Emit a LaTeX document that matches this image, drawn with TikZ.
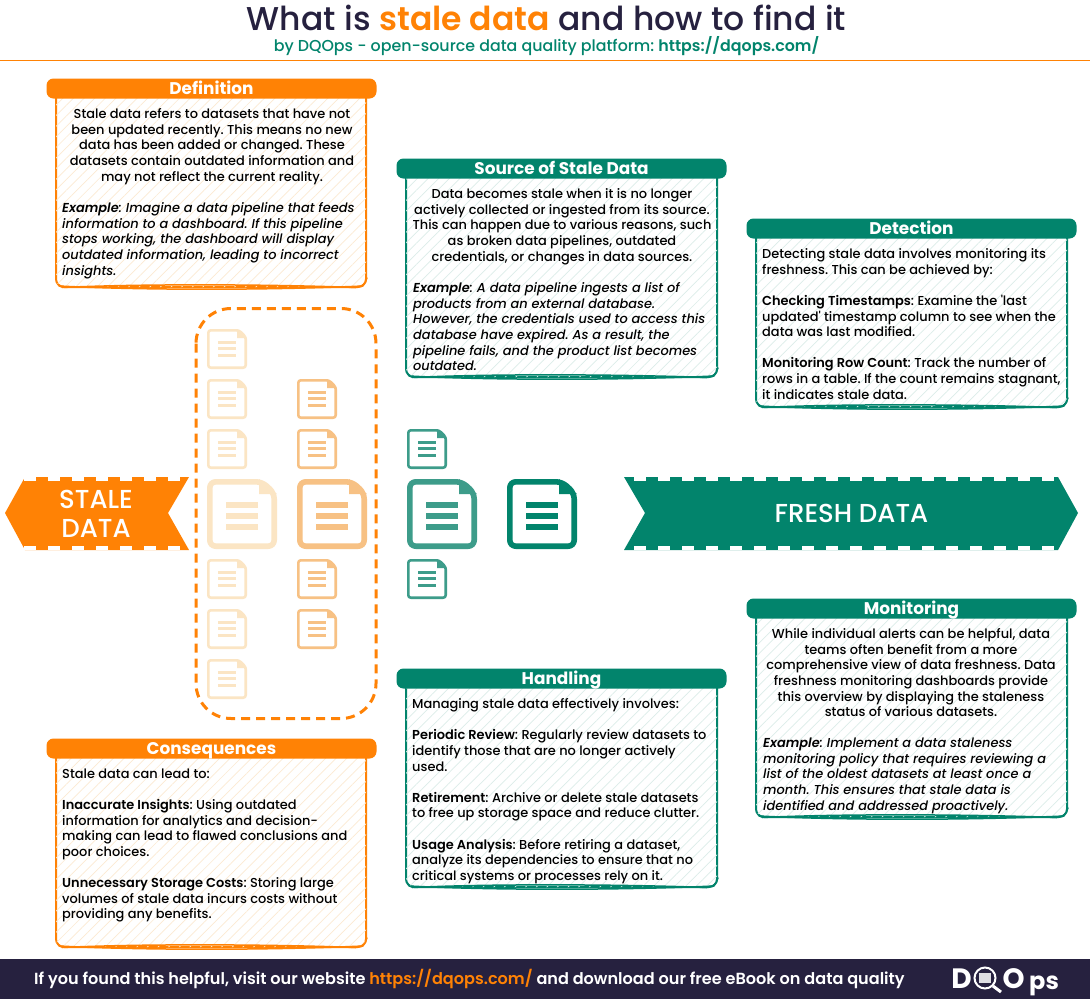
\documentclass[tikz,border=0pt]{standalone}
\usepackage{fontspec}
\usetikzlibrary{patterns.meta}
\setmainfont{Poppins}
\newfontfamily\med{Poppins Medium}[ItalicFont={Poppins Medium Italic},BoldFont={Poppins SemiBold},BoldItalicFont={Poppins SemiBold Italic}]
\newfontfamily\semi{Poppins SemiBold}
\definecolor{orng}{HTML}{FF8205}
\definecolor{grn}{HTML}{02846C}
\definecolor{navy}{HTML}{26213F}
\definecolor{tintO}{HTML}{FBE5C4}
\definecolor{peach}{HTML}{F7C184}
\definecolor{teal}{HTML}{3D9C8A}
\definecolor{hatchO}{HTML}{FCEAD2}
\definecolor{hatchG}{HTML}{DCEDE9}
\frenchspacing
\tikzset{
  x=1pt,y=-1pt,
  bodytext/.style={font=\med\frenchspacing\fontsize{12.95}{15.6}\selectfont,inner sep=0pt,text=black},
  lefttext/.style={bodytext,anchor=north west,align=left},
  midtext/.style={bodytext,anchor=north,align=center},
  headbar/.style={rounded corners=7pt,minimum width=330pt,minimum height=20pt,inner sep=0pt,text height=11.5pt,text depth=0pt,text=white,font=\fontsize{16.9}{18}\bfseries\selectfont},
  headO/.style={headbar,fill=orng},
  headG/.style={headbar,fill=grn},
  bodyO/.style={draw=orng,line width=2pt,rounded corners=8pt,fill=white,postaction={pattern={Lines[angle=45,distance=7.5pt,line width=.7pt]},pattern color=hatchO}},
  bodyG/.style={draw=grn,line width=2pt,rounded corners=8pt,fill=white,postaction={pattern={Lines[angle=45,distance=7.5pt,line width=.7pt]},pattern color=hatchG}},
  banner/.style={font=\med\fontsize{26}{29}\selectfont,text=white,align=center,inner sep=0pt},
  logotext/.style={font=\bfseries\fontsize{28}{28}\selectfont,text=white,inner sep=0pt,anchor=base},
}
% hand-drawn extra strokes along the bottom edge of a card: colour, x0, x1, y
\newcommand{\sketchedge}[4]{%
  \draw[#1,line width=1.5pt,line cap=round] (#2+3,#4-1) .. controls (#2+90,#4+3.5) and (#3-90,#4+3) .. (#3-3,#4-1);
  \draw[#1,line width=1.5pt,line cap=round] (#2+6,#4+.5) .. controls (#2+90,#4-3.5) and (#3-90,#4-2.5) .. (#3-10,#4+.5);
  \draw[#1,line width=1.3pt,line cap=round] (#3-15,#4+.5) .. controls (#3-6,#4+1) and (#3,#4-2) .. (#3+1,#4-9);
}
\newcommand{\docsmall}[3]{% x y colour
  \begin{scope}[shift={(#1,#2)}]
    \draw[#3,line width=2.6pt,line join=round,rounded corners=2.5pt] (1.3,1.3) -- (32,1.3) -- (38.7,8) -- (38.7,38.7) -- (1.3,38.7) -- cycle;
    \fill[#3] (30,0) -- (40,9) -- (30,9) -- cycle;
    \foreach \yy in {11.5,18,24.5}{\fill[#3] (10.5,\yy) rectangle (29,\yy+3);}
  \end{scope}}
\newcommand{\docbig}[3]{%
  \begin{scope}[shift={(#1,#2)}]
    \draw[#3,line width=5.6pt,line join=round,rounded corners=6pt] (2.8,2.8) -- (55,2.8) -- (67.2,14) -- (67.2,67.2) -- (2.8,67.2) -- cycle;
    \fill[#3] (52,0) -- (70,15) -- (52,15) -- cycle;
    \foreach \yy in {23,34,45}{\fill[#3] (18.5,\yy) rectangle (50.5,\yy+6);}
  \end{scope}}
\begin{document}
\begin{tikzpicture}
\useasboundingbox (0,0) rectangle (1090,999);
\fill[white] (0,0) rectangle (1090,999);
% title
\node[font=\med\fontsize{33}{36}\selectfont,text=navy,inner sep=0pt,text height=24pt,text depth=0pt] (title) at (546.5,18) {What is {\semi\color{orng}stale data} and how to find it};
\node[font=\med\fontsize{15.85}{18}\selectfont,text=grn,inner sep=0pt] (sub) at (546.5,46) {by DQOps - open-source data quality platform: {\bfseries https://dqops.com/}};
\fill[orng] (0,59.5) rectangle (1090,61);
% dashed box
\draw[orng,line width=3pt,rounded corners=35pt,dash pattern=on 9pt off 6pt] (196,308.5) rectangle (376,718.5);
% doc icons
\foreach \yy in {329,379,429,559,609,659}{\docsmall{207}{\yy}{tintO}}
\foreach \yy in {379,429,559,609}{\docsmall{297}{\yy}{peach}}
\foreach \yy in {429,559}{\docsmall{407}{\yy}{teal}}
\docbig{207}{479}{tintO}
\docbig{297}{479}{peach}
\docbig{407}{479}{teal}
\docbig{507}{479}{grn}
% banners
\fill[orng] (5,513) -- (25,477) -- (189,477) -- (168,513) -- (189,550) -- (25,550) -- cycle;
\fill[grn] (624,477) -- (1058,477) -- (1078,513) -- (1058,550) -- (624,550) -- (645,513) -- cycle;
\draw[white,line width=4pt,dash pattern=on 12pt off 12pt] (24,479) -- (189,479) (24,548) -- (189,548);
\draw[white,line width=4pt,dash pattern=on 12pt off 12pt] (634,479) -- (1060,479) (634,548) -- (1060,548);
\node[banner] (stale) at (96,513.5) {STALE\\DATA};
\node[banner] (fresh) at (851.5,513) {FRESH DATA};
% Definition
\draw[bodyO] (56,90) -- (56,287) -- (366,287) -- (366,90);
\sketchedge{orng}{56}{366}{287}
\node[headO] (defh) at (211.5,88.5) {Definition};
\node[midtext] (defa) at (212,108.5) {Stale data refers to datasets that have not\\been updated recently. This means no new\\data has been added or changed. These\\datasets contain outdated information and\\may not reflect the current reality.};
\node[lefttext] (defb) at (62,202.5) {\textbf{\textit{Example}}\textit{: Imagine a data pipeline that feeds}\\\textit{information to a dashboard. If this pipeline}\\\textit{stops working, the dashboard will display}\\\textit{outdated information, leading to incorrect}\\\textit{insights.}};
% Source
\draw[bodyG] (406,170) -- (406,377) -- (717,377) -- (717,170);
\sketchedge{grn}{406}{717}{377}
\node[headG] (srch) at (561.5,168.5) {Source of Stale Data};
\node[midtext] (srca) at (562,188.5) {Data becomes stale when it is no longer\\actively collected or ingested from its source.\\This can happen due to various reasons, such\\as broken data pipelines, outdated\\credentials, or changes in data sources.};
\node[lefttext] (srcb) at (413,282.5) {\textbf{\textit{Example}}\textit{: A data pipeline ingests a list of}\\\textit{products from an external database.}\\\textit{However, the credentials used to access this}\\\textit{database have expired. As a result, the}\\\textit{pipeline fails, and the product list becomes}\\\textit{outdated.}};
% Detection
\draw[bodyG] (756,230) -- (756,407) -- (1067,407) -- (1067,230);
\sketchedge{grn}{756}{1067}{407}
\node[headG] (deth) at (911.5,228.5) {Detection};
\node[lefttext] (deta) at (762,248.5) {Detecting stale data involves monitoring its\\freshness. This can be achieved by:\\[15.6pt]\textbf{Checking Timestamps}: Examine the 'last\\updated' timestamp column to see when the\\data was last modified.\\[15.6pt]\textbf{Monitoring Row Count}: Track the number of\\rows in a table. If the count remains stagnant,\\it indicates stale data.};
% Monitoring
\draw[bodyG] (756,610) -- (756,817) -- (1067,817) -- (1067,610);
\sketchedge{grn}{756}{1067}{817}
\node[headG] (monh) at (911.5,608.5) {Monitoring};
\node[midtext] (mona) at (911,628.5) {While individual alerts can be helpful, data\\teams often benefit from a more\\comprehensive view of data freshness. Data\\freshness monitoring dashboards provide\\this overview by displaying the staleness\\status of various datasets.};
\node[lefttext] (monb) at (763,738) {\textbf{\textit{Example}}\textit{: Implement a data staleness}\\\textit{monitoring policy that requires reviewing a}\\\textit{list of the oldest datasets at least once a}\\\textit{month. This ensures that stale data is}\\\textit{identified and addressed proactively.}};
% Handling
\draw[bodyG] (406,680) -- (406,887) -- (717,887) -- (717,680);
\sketchedge{grn}{406}{717}{887}
\node[headG] (hanh) at (561.5,678.5) {Handling};
\node[lefttext] (hana) at (412,698.5) {Managing stale data effectively involves:\\[15.6pt]\textbf{Periodic Review}: Regularly review datasets to\\identify those that are no longer actively\\used.\\[15.6pt]\textbf{Retirement}: Archive or delete stale datasets\\to free up storage space and reduce clutter.\\[15.6pt]\textbf{Usage Analysis}: Before retiring a dataset,\\analyze its dependencies to ensure that no\\critical systems or processes rely on it.};
% Consequences
\draw[bodyO] (56,750) -- (56,947) -- (366,947) -- (366,750);
\sketchedge{orng}{56}{366}{947}
\node[headO] (conh) at (211.5,748.5) {Consequences};
\node[lefttext] (cona) at (62,768.5) {Stale data can lead to:\\[15.6pt]\textbf{Inaccurate Insights}: Using outdated\\information for analytics and decision-\\making can lead to flawed conclusions and\\poor choices.\\[15.6pt]\textbf{Unnecessary Storage Costs}: Storing large\\volumes of stale data incurs costs without\\providing any benefits.};
% footer
\fill[navy] (0,959) rectangle (1090,999);
\node[font=\semi\frenchspacing\fontsize{16.1}{18}\selectfont,text=white,inner sep=0pt,anchor=west] (foot) at (34,978.5) {If you found this helpful, visit our website {\color{orng}https://dqops.com/} and download our free eBook on data quality};
\node[logotext] (logod) at (961.5,988.5) {D};
\draw[white,line width=2pt] (985,978) circle (10.5pt);
\draw[white,line width=3pt] (993,986) -- (1001,992);
\fill[white!85!navy] (979,973) rectangle (991,983);
\node[logotext] (logoo) at (1013.5,988.5) {O};
\node[logotext,font=\bfseries\fontsize{24}{24}\selectfont,anchor=base west] (logop) at (1029,989) {ps};
\end{tikzpicture}
\end{document}
